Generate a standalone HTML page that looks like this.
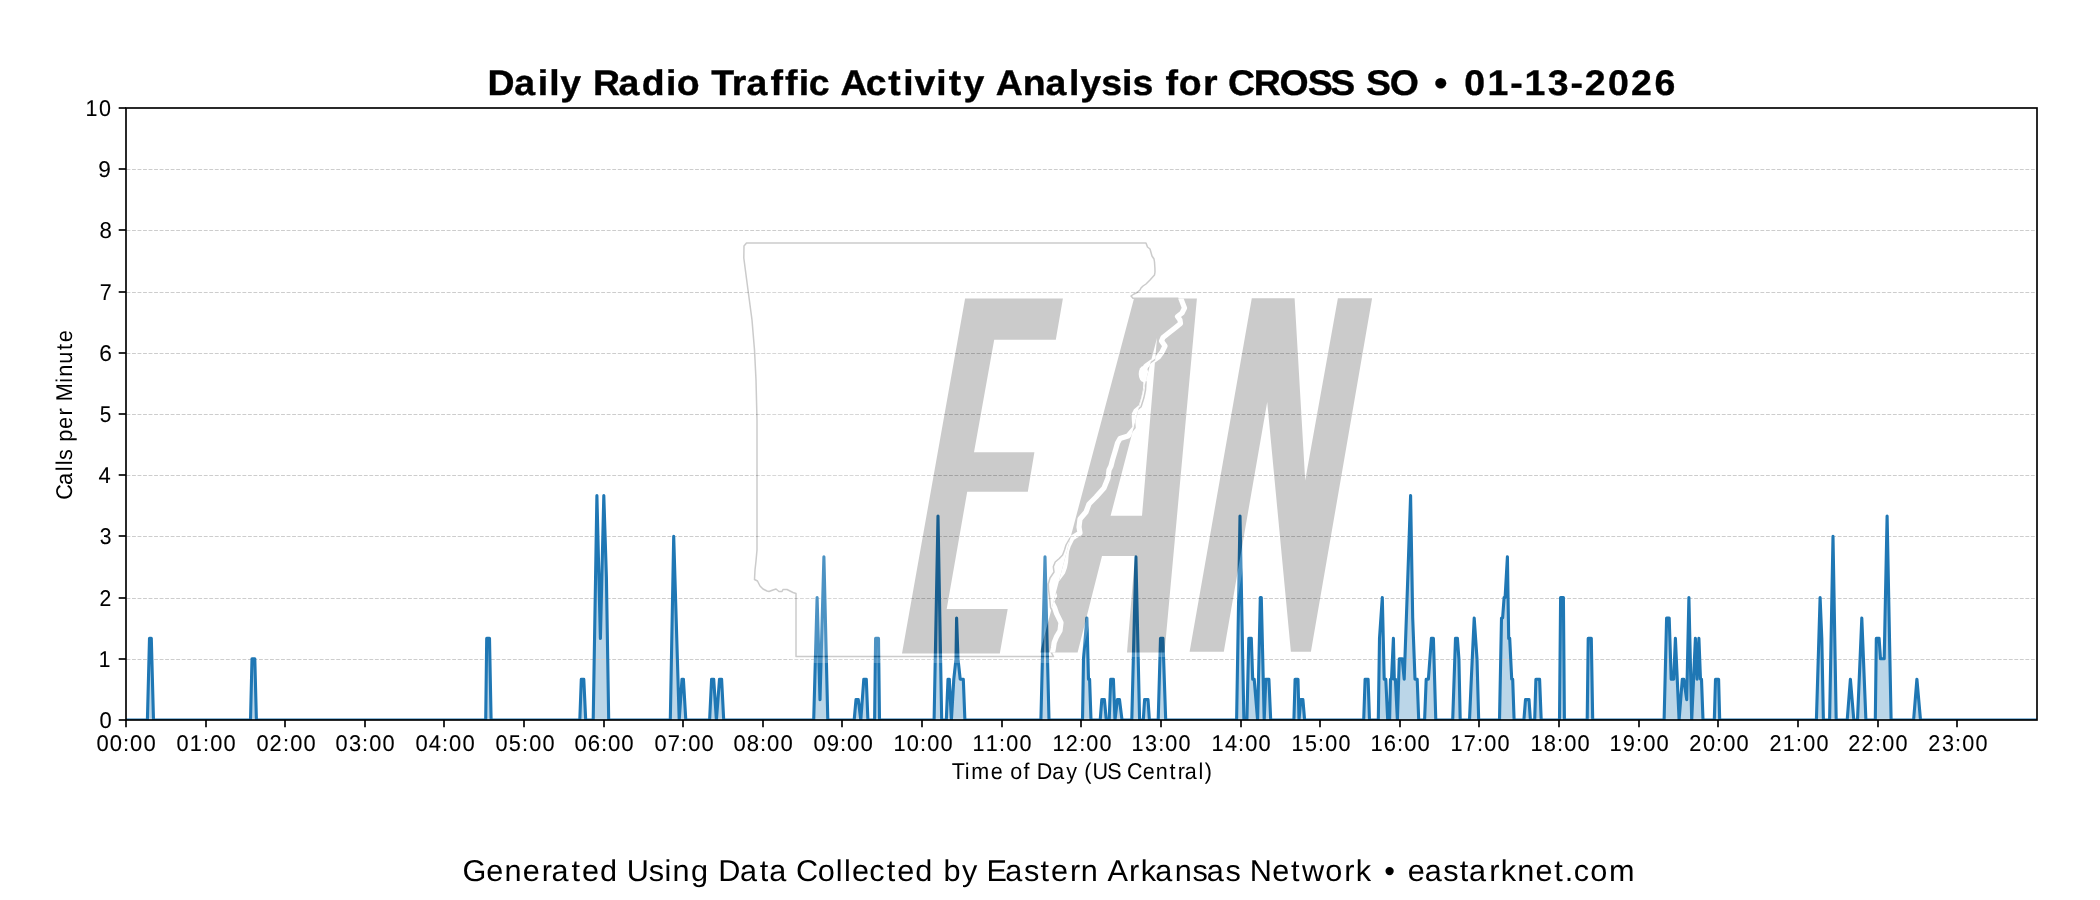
<!DOCTYPE html>
<html><head><meta charset="utf-8"><title>Daily Radio Traffic Activity Analysis</title>
<style>
html,body{margin:0;padding:0;background:#fff;}
svg{display:block;will-change:transform;}
text{font-family:"Liberation Sans",sans-serif;fill:#000;text-rendering:geometricPrecision;}
</style></head><body>
<svg width="2100" height="900" viewBox="0 0 2100 900">
<defs>
<clipPath id="ax"><rect x="126" y="108" width="1911" height="612"/></clipPath>
<clipPath id="lt"><path d="M965.1 298.4 L1062.9 298.4 L1055.8 339.8 L994.2 339.8 L974 452.2 L1034.4 452.2 L1027.8 491.8 L967.2 491.8 L946.7 608.9 L1007.7 608.9 L999.8 653.6 L902 653.6 Z M1134 298.4 L1196.9 298.4 L1164.5 652.4 L1127 652.4 L1135 556 L1102 556 L1077.6 652.4 L1040 652.4 Z M1157 338 L1142 515.8 L1110.6 515.8 Z M1251.8 298.2 L1294.6 298.2 L1305.2 480.6 L1337.9 298.2 L1372.1 298.2 L1310.9 651.8 L1290.9 651.8 L1267.2 401.9 L1223.8 651.8 L1189.6 651.8 Z" clip-rule="evenodd"/></clipPath>
</defs>
<rect x="0" y="0" width="2100" height="900" fill="#fff"/>
<g clip-path="url(#ax)">
<path d="M125.9 720 L147.4 720 L149.5 638.4 L151.3 638.4 L153.5 720 L250.5 720 L252 658.8 L254.8 658.8 L256.4 720 L485.7 720 L486.7 638.4 L489.5 638.4 L491.1 720 L579.8 720 L581.3 679.2 L583.8 679.2 L585.7 720 L593.2 720 L596.9 495.6 L600.4 638.4 L603.8 495.6 L606.4 577.2 L608.7 720 L670.3 720 L673.7 536.4 L679.2 720 L682 679.2 L683.4 679.2 L685.8 720 L709.6 720 L711.6 679.2 L713.7 679.2 L716.4 720 L719.5 679.2 L721.6 679.2 L723.7 720 L813.7 720 L817.1 597.6 L820 699.6 L823.9 556.8 L827.8 720 L854.2 720 L856 699.6 L858.3 699.6 L860.8 720 L863.8 679.2 L866.3 679.2 L867.9 720 L874.6 720 L875.6 638.4 L878.5 638.4 L879.5 720 L934.1 720 L938 516 L941.7 720 L946.3 720 L948 679.2 L949.3 679.2 L951.4 720 L953.8 679.2 L956 658.8 L956.6 618 L958 658.8 L960.2 679.2 L963.3 679.2 L964.9 720 L1040.9 720 L1045 556.8 L1049 720 L1082.5 720 L1083.5 658.8 L1086.9 618 L1088.5 679.2 L1089.6 679.2 L1091 720 L1100.2 720 L1101.8 699.6 L1104.4 699.6 L1106.3 720 L1109.2 720 L1110.7 679.2 L1113.4 679.2 L1115 720 L1117.4 699.6 L1119.5 699.6 L1122 720 L1131.8 720 L1135.9 556.8 L1139.6 720 L1143.3 720 L1144.6 699.6 L1148 699.6 L1149.4 720 L1158.2 720 L1160.5 638.4 L1162.9 638.4 L1165.7 720 L1236.6 720 L1240 516 L1243.9 720 L1246.9 720 L1248.8 638.4 L1251.3 638.4 L1252.7 679.2 L1254.2 679.2 L1257.6 720 L1260.3 597.6 L1261.3 597.6 L1264.2 720 L1265.8 679.2 L1268.9 679.2 L1270.7 720 L1293.9 720 L1295.1 679.2 L1298 679.2 L1299 720 L1300.8 699.6 L1302.9 699.6 L1304.6 720 L1363.7 720 L1365.1 679.2 L1368.1 679.2 L1369.5 720 L1378.3 720 L1379.5 638.4 L1382.3 597.6 L1384.2 679.2 L1385.8 679.2 L1387.7 720 L1389.6 720 L1390.5 679.2 L1391.5 679.2 L1393.4 638.4 L1394.3 679.2 L1395.4 679.2 L1397.4 720 L1399.3 658.8 L1402.2 658.8 L1404.2 679.2 L1407.8 577.2 L1410.6 495.6 L1412.7 618 L1415 679.2 L1417.2 679.2 L1418.7 720 L1424.6 720 L1426.2 679.2 L1428.4 679.2 L1431.4 638.4 L1433.4 638.4 L1435.8 720 L1452.7 720 L1455.5 638.4 L1457.4 638.4 L1458.9 658.8 L1460.2 720 L1469.5 720 L1471.3 679.2 L1474.2 618 L1477 658.8 L1478.7 720 L1499.5 720 L1501.5 618 L1502.6 618 L1504.1 597.6 L1505.1 597.6 L1507.4 556.8 L1508.7 638.4 L1509.7 638.4 L1511.7 679.2 L1512.7 679.2 L1514.1 720 L1523.9 720 L1525.5 699.6 L1529 699.6 L1530.4 720 L1534.7 720 L1535.9 679.2 L1539.6 679.2 L1541.2 720 L1559.5 720 L1560.6 597.6 L1563.4 597.6 L1564.4 720 L1587.2 720 L1588.2 638.4 L1591.3 638.4 L1592.7 720 L1664.1 720 L1666.6 618 L1669.2 618 L1671.2 679.2 L1673.7 679.2 L1675.4 638.4 L1679.1 720 L1682.3 679.2 L1683.8 679.2 L1686.7 699.6 L1688.9 597.6 L1691.7 720 L1695.4 638.4 L1697.1 679.2 L1698.9 638.4 L1700.5 679.2 L1701.5 679.2 L1703 720 L1714.3 720 L1715.5 679.2 L1718.6 679.2 L1719.7 720 L1816.4 720 L1820.1 597.6 L1821.8 638.4 L1823.4 720 L1829.6 720 L1833 536.4 L1836.2 720 L1847.2 720 L1850.4 679.2 L1853.8 720 L1857.5 720 L1861.8 618 L1865.9 720 L1875.3 720 L1876.3 638.4 L1879.1 638.4 L1880.5 658.8 L1884.2 658.8 L1887.1 516 L1891.1 720 L1913.6 720 L1916.9 679.2 L1920.5 720 L2036.78 720 L2036.78 720 L125.9 720 Z" fill="#1f77b4" fill-opacity="0.3" stroke="none"/>
<g stroke="#cdcdcd" stroke-width="1.04" stroke-dasharray="3.85 1.67" stroke-dashoffset="-0.5" fill="none"><line x1="126" y1="659.5" x2="2036" y2="659.5"/><line x1="126" y1="598.5" x2="2036" y2="598.5"/><line x1="126" y1="536.5" x2="2036" y2="536.5"/><line x1="126" y1="475.5" x2="2036" y2="475.5"/><line x1="126" y1="414.5" x2="2036" y2="414.5"/><line x1="126" y1="353.5" x2="2036" y2="353.5"/><line x1="126" y1="292.5" x2="2036" y2="292.5"/><line x1="126" y1="230.5" x2="2036" y2="230.5"/><line x1="126" y1="169.5" x2="2036" y2="169.5"/></g>
<path d="M125.9 720 L147.4 720 L149.5 638.4 L151.3 638.4 L153.5 720 L250.5 720 L252 658.8 L254.8 658.8 L256.4 720 L485.7 720 L486.7 638.4 L489.5 638.4 L491.1 720 L579.8 720 L581.3 679.2 L583.8 679.2 L585.7 720 L593.2 720 L596.9 495.6 L600.4 638.4 L603.8 495.6 L606.4 577.2 L608.7 720 L670.3 720 L673.7 536.4 L679.2 720 L682 679.2 L683.4 679.2 L685.8 720 L709.6 720 L711.6 679.2 L713.7 679.2 L716.4 720 L719.5 679.2 L721.6 679.2 L723.7 720 L813.7 720 L817.1 597.6 L820 699.6 L823.9 556.8 L827.8 720 L854.2 720 L856 699.6 L858.3 699.6 L860.8 720 L863.8 679.2 L866.3 679.2 L867.9 720 L874.6 720 L875.6 638.4 L878.5 638.4 L879.5 720 L934.1 720 L938 516 L941.7 720 L946.3 720 L948 679.2 L949.3 679.2 L951.4 720 L953.8 679.2 L956 658.8 L956.6 618 L958 658.8 L960.2 679.2 L963.3 679.2 L964.9 720 L1040.9 720 L1045 556.8 L1049 720 L1082.5 720 L1083.5 658.8 L1086.9 618 L1088.5 679.2 L1089.6 679.2 L1091 720 L1100.2 720 L1101.8 699.6 L1104.4 699.6 L1106.3 720 L1109.2 720 L1110.7 679.2 L1113.4 679.2 L1115 720 L1117.4 699.6 L1119.5 699.6 L1122 720 L1131.8 720 L1135.9 556.8 L1139.6 720 L1143.3 720 L1144.6 699.6 L1148 699.6 L1149.4 720 L1158.2 720 L1160.5 638.4 L1162.9 638.4 L1165.7 720 L1236.6 720 L1240 516 L1243.9 720 L1246.9 720 L1248.8 638.4 L1251.3 638.4 L1252.7 679.2 L1254.2 679.2 L1257.6 720 L1260.3 597.6 L1261.3 597.6 L1264.2 720 L1265.8 679.2 L1268.9 679.2 L1270.7 720 L1293.9 720 L1295.1 679.2 L1298 679.2 L1299 720 L1300.8 699.6 L1302.9 699.6 L1304.6 720 L1363.7 720 L1365.1 679.2 L1368.1 679.2 L1369.5 720 L1378.3 720 L1379.5 638.4 L1382.3 597.6 L1384.2 679.2 L1385.8 679.2 L1387.7 720 L1389.6 720 L1390.5 679.2 L1391.5 679.2 L1393.4 638.4 L1394.3 679.2 L1395.4 679.2 L1397.4 720 L1399.3 658.8 L1402.2 658.8 L1404.2 679.2 L1407.8 577.2 L1410.6 495.6 L1412.7 618 L1415 679.2 L1417.2 679.2 L1418.7 720 L1424.6 720 L1426.2 679.2 L1428.4 679.2 L1431.4 638.4 L1433.4 638.4 L1435.8 720 L1452.7 720 L1455.5 638.4 L1457.4 638.4 L1458.9 658.8 L1460.2 720 L1469.5 720 L1471.3 679.2 L1474.2 618 L1477 658.8 L1478.7 720 L1499.5 720 L1501.5 618 L1502.6 618 L1504.1 597.6 L1505.1 597.6 L1507.4 556.8 L1508.7 638.4 L1509.7 638.4 L1511.7 679.2 L1512.7 679.2 L1514.1 720 L1523.9 720 L1525.5 699.6 L1529 699.6 L1530.4 720 L1534.7 720 L1535.9 679.2 L1539.6 679.2 L1541.2 720 L1559.5 720 L1560.6 597.6 L1563.4 597.6 L1564.4 720 L1587.2 720 L1588.2 638.4 L1591.3 638.4 L1592.7 720 L1664.1 720 L1666.6 618 L1669.2 618 L1671.2 679.2 L1673.7 679.2 L1675.4 638.4 L1679.1 720 L1682.3 679.2 L1683.8 679.2 L1686.7 699.6 L1688.9 597.6 L1691.7 720 L1695.4 638.4 L1697.1 679.2 L1698.9 638.4 L1700.5 679.2 L1701.5 679.2 L1703 720 L1714.3 720 L1715.5 679.2 L1718.6 679.2 L1719.7 720 L1816.4 720 L1820.1 597.6 L1821.8 638.4 L1823.4 720 L1829.6 720 L1833 536.4 L1836.2 720 L1847.2 720 L1850.4 679.2 L1853.8 720 L1857.5 720 L1861.8 618 L1865.9 720 L1875.3 720 L1876.3 638.4 L1879.1 638.4 L1880.5 658.8 L1884.2 658.8 L1887.1 516 L1891.1 720 L1913.6 720 L1916.9 679.2 L1920.5 720 L2036.78 720" fill="none" stroke="#1f77b4" stroke-width="3.1" stroke-linejoin="round" stroke-linecap="butt"/>
<g opacity="0.2">
<path d="M1146 243 L1147.5 247 L1150 249 L1152 256 L1154 259 L1154.5 262 L1154.9 268 L1155 272 L1154.5 275 L1150 280 L1146 284 L1143 286 L1141 288 L1140 290 L1137 292.5 L1134 294 L1131 296 L1133 298.3 L1178 298.3 L1184.5 308 L1182 313 L1177.5 316.5 L1180 320 L1180.5 323.5 L1175 328 L1168 333.5 L1163 337.5 L1161.5 341 L1165 346 L1162 352 L1158.5 357 L1153 361 L1146 366 L1143 372 L1144 378 L1146 382 L1145.5 390 L1143.9 397.8 L1141.1 406.7 L1136 411 L1134.2 414.4 L1134.4 420 L1135 427.8 L1128 436 L1120 438.5 L1117.5 443 L1115.5 450 L1112.8 458.9 L1111 466 L1109 470 L1108 478 L1104 488 L1096 497 L1089 504 L1086 512 L1080 519 L1078 527 L1077 533 L1070 538 L1066 545 L1064.5 550 L1062.6 555 L1059.3 558.5 L1055.2 562 L1053.3 566.7 L1054 572 L1050 578 L1048.3 584 L1048.6 590 L1049.4 595.8 L1050 601.6 L1050.5 607.4 L1053.5 613.3 L1058.1 622.6 L1057 630.8 L1052.3 636.6 L1051.2 642.4 L1052.3 648.2 L1051.5 652.9 L1053.5 656.5 L1053.5 656.5 L796 656.5 L796 593.5 L793 592.5 L790 591 L787 589.5 L783 589.5 L782 591.5 L779 591.5 L776 589 L773 590 L769 591.5 L767 591 L763 589 L760 586 L758.5 583 L757.5 581 L754.5 579.5 L755 570 L756 561 L757 550 L757 420 L756 380 L754.5 350 L752 320 L748 290 L743.8 258 L744 246 L746.5 243 Z" fill="#fff" stroke="#fff" stroke-width="13" stroke-linejoin="round"/>
<path d="M965.1 298.4 L1062.9 298.4 L1055.8 339.8 L994.2 339.8 L974 452.2 L1034.4 452.2 L1027.8 491.8 L967.2 491.8 L946.7 608.9 L1007.7 608.9 L999.8 653.6 L902 653.6 Z M1134 298.4 L1196.9 298.4 L1164.5 652.4 L1127 652.4 L1135 556 L1102 556 L1077.6 652.4 L1040 652.4 Z M1157 338 L1142 515.8 L1110.6 515.8 Z M1251.8 298.2 L1294.6 298.2 L1305.2 480.6 L1337.9 298.2 L1372.1 298.2 L1310.9 651.8 L1290.9 651.8 L1267.2 401.9 L1223.8 651.8 L1189.6 651.8 Z" fill="#fff" fill-rule="evenodd" stroke="#fff" stroke-width="9" stroke-linejoin="round"/>
<path d="M1146 243 L1147.5 247 L1150 249 L1152 256 L1154 259 L1154.5 262 L1154.9 268 L1155 272 L1154.5 275 L1150 280 L1146 284 L1143 286 L1141 288 L1140 290 L1137 292.5 L1134 294 L1131 296 L1133 298.3 L1178 298.3 L1184.5 308 L1182 313 L1177.5 316.5 L1180 320 L1180.5 323.5 L1175 328 L1168 333.5 L1163 337.5 L1161.5 341 L1165 346 L1162 352 L1158.5 357 L1153 361 L1146 366 L1143 372 L1144 378 L1146 382 L1145.5 390 L1143.9 397.8 L1141.1 406.7 L1136 411 L1134.2 414.4 L1134.4 420 L1135 427.8 L1128 436 L1120 438.5 L1117.5 443 L1115.5 450 L1112.8 458.9 L1111 466 L1109 470 L1108 478 L1104 488 L1096 497 L1089 504 L1086 512 L1080 519 L1078 527 L1077 533 L1070 538 L1066 545 L1064.5 550 L1062.6 555 L1059.3 558.5 L1055.2 562 L1053.3 566.7 L1054 572 L1050 578 L1048.3 584 L1048.6 590 L1049.4 595.8 L1050 601.6 L1050.5 607.4 L1053.5 613.3 L1058.1 622.6 L1057 630.8 L1052.3 636.6 L1051.2 642.4 L1052.3 648.2 L1051.5 652.9 L1053.5 656.5 L1053.5 656.5 L796 656.5 L796 593.5 L793 592.5 L790 591 L787 589.5 L783 589.5 L782 591.5 L779 591.5 L776 589 L773 590 L769 591.5 L767 591 L763 589 L760 586 L758.5 583 L757.5 581 L754.5 579.5 L755 570 L756 561 L757 550 L757 420 L756 380 L754.5 350 L752 320 L748 290 L743.8 258 L744 246 L746.5 243 Z" fill="none" stroke="#000" stroke-width="1.5" stroke-linejoin="round"/>
<path d="M965.1 298.4 L1062.9 298.4 L1055.8 339.8 L994.2 339.8 L974 452.2 L1034.4 452.2 L1027.8 491.8 L967.2 491.8 L946.7 608.9 L1007.7 608.9 L999.8 653.6 L902 653.6 Z M1134 298.4 L1196.9 298.4 L1164.5 652.4 L1127 652.4 L1135 556 L1102 556 L1077.6 652.4 L1040 652.4 Z M1157 338 L1142 515.8 L1110.6 515.8 Z M1251.8 298.2 L1294.6 298.2 L1305.2 480.6 L1337.9 298.2 L1372.1 298.2 L1310.9 651.8 L1290.9 651.8 L1267.2 401.9 L1223.8 651.8 L1189.6 651.8 Z" fill="#000" fill-rule="evenodd"/>
<path d="M1180.8 296 L1180.8 298.4 L1184.5 308 L1182 313 L1177.5 316.5 L1180 320 L1180.5 323.5 L1175 328 L1168 333.5 L1163 337.5 L1161.5 341 L1165 346 L1162 352 L1158.5 357 L1153 361 L1146 366 L1143 372 L1144 378 L1146 382 L1145.5 390 L1143.9 397.8 L1141.1 406.7 L1136 411 L1134.2 414.4 L1134.4 420 L1135 427.8 L1128 436 L1120 438.5 L1117.5 443 L1115.5 450 L1112.8 458.9 L1111 466 L1109 470 L1108 478 L1104 488 L1096 497 L1089 504 L1086 512 L1080 519 L1079 527 L1080 533 L1072 538 L1068.5 545 L1066.5 551 L1066 556 L1065.5 562 L1064.5 567 L1062.5 572.5 L1058 578.3 L1053.5 584 L1052.2 590 L1054.5 595.8 L1051.5 601.6 L1054.5 607.4 L1056.5 613.3 L1061 622.6 L1060 630.8 L1056.6 636.6 L1054.2 642.4 L1053.4 648.2 L1052.4 652.9 L1053.5 656.5" fill="none" stroke="#fff" stroke-width="5.2" stroke-linejoin="round" stroke-linecap="round" clip-path="url(#lt)"/>
<ellipse cx="1143.5" cy="374" rx="4.8" ry="8" fill="#fff" clip-path="url(#lt)"/>
</g>
</g>
<g stroke="#000" stroke-width="1.67" fill="none" stroke-linecap="butt">
<rect x="126" y="108" width="1911" height="612"/>
<line x1="118.7" y1="720" x2="126" y2="720"/><line x1="118.7" y1="659" x2="126" y2="659"/><line x1="118.7" y1="598" x2="126" y2="598"/><line x1="118.7" y1="536" x2="126" y2="536"/><line x1="118.7" y1="475" x2="126" y2="475"/><line x1="118.7" y1="414" x2="126" y2="414"/><line x1="118.7" y1="353" x2="126" y2="353"/><line x1="118.7" y1="292" x2="126" y2="292"/><line x1="118.7" y1="230" x2="126" y2="230"/><line x1="118.7" y1="169" x2="126" y2="169"/><line x1="118.7" y1="108" x2="126" y2="108"/><line x1="126" y1="720" x2="126" y2="727.3"/><line x1="206" y1="720" x2="206" y2="727.3"/><line x1="285" y1="720" x2="285" y2="727.3"/><line x1="365" y1="720" x2="365" y2="727.3"/><line x1="444" y1="720" x2="444" y2="727.3"/><line x1="524" y1="720" x2="524" y2="727.3"/><line x1="604" y1="720" x2="604" y2="727.3"/><line x1="683" y1="720" x2="683" y2="727.3"/><line x1="763" y1="720" x2="763" y2="727.3"/><line x1="842" y1="720" x2="842" y2="727.3"/><line x1="922" y1="720" x2="922" y2="727.3"/><line x1="1002" y1="720" x2="1002" y2="727.3"/><line x1="1081" y1="720" x2="1081" y2="727.3"/><line x1="1161" y1="720" x2="1161" y2="727.3"/><line x1="1241" y1="720" x2="1241" y2="727.3"/><line x1="1320" y1="720" x2="1320" y2="727.3"/><line x1="1400" y1="720" x2="1400" y2="727.3"/><line x1="1479" y1="720" x2="1479" y2="727.3"/><line x1="1559" y1="720" x2="1559" y2="727.3"/><line x1="1639" y1="720" x2="1639" y2="727.3"/><line x1="1718" y1="720" x2="1718" y2="727.3"/><line x1="1798" y1="720" x2="1798" y2="727.3"/><line x1="1878" y1="720" x2="1878" y2="727.3"/><line x1="1957" y1="720" x2="1957" y2="727.3"/>
</g>
<g fill="#000">
<text transform="scale(1.0488,1)" x="464.87 490.36 512.72 523.61 534.29 554.14 565.42 589.83 611.97 634.94 645.33 667.14 678.13 697.71 711.7 734.62 748.44 761.71 771.02 790.88 801.41 825.51 846.91 861.11 871.94 892.72 904.6 918.58 938.44 949.49 975.08 996.87 1019.23 1029.9 1050.03 1069.75 1079.83 1099.69 1111.18 1123.94 1147.03 1160.92 1170.79 1195.46 1219.91 1246.99 1268.44 1292.26 1302.39 1325.21 1352.98 1367.57 1380.07 1396.18 1418.33 1439.92 1453.63 1475.71 1497.33 1510.94 1533.1 1555.16 1577.42" y="95" font-size="35.7px" font-weight="bold" stroke="#000" stroke-width="0.36">Daily Radio Traffic Activity Analysis for CROSS SO • 01-13-2026</text>
<text transform="scale(1.0214,1)" x="452.92 476.15 493.99 511.81 530.3 539.95 559.46 569.8 587.42 604.1 613.69 635.1 650.48 658.54 676.42 693.1 703.28 724.38 743.9 753.07 769.75 779.29 800.64 818.34 826.27 834.08 851.15 868.19 878.53 896.15 912.83 923.7 941.86 956.86 965.81 984.26 1002.56 1018.65 1028.99 1047.48 1058.08 1074.76 1084.23 1105.43 1116.74 1131.12 1150.05 1167.52 1181.58 1199.89 1214.89 1223.54 1245.56 1263.97 1274.65 1297.57 1316.06 1327.36 1342.36 1355.15 1365.65 1378.39 1394.79 1413.09 1429.18 1438.35 1457.94 1469.25 1485.56 1503.39 1521.8 1532 1540.73 1556.82 1575.38" y="881" font-size="30.0px">Generated Using Data Collected by Eastern Arkansas Network • eastarknet.com</text>
<text transform="scale(0.9444,1)" x="1007.89 1021.5 1028.4 1049.12 1061.8 1069.67 1083.78 1090.11 1097.88 1114.2 1128.97 1140.37 1148.19 1156.72 1172.57 1187.78 1193.46 1210.04 1223.85 1238.26 1247 1254.51 1268.99 1275.68" y="779" font-size="22.8px">Time of Day (US Central)</text>
<text transform="translate(71.6,497.84) rotate(-90) scale(0.9530,1)" x="-1.95 13.6 27.99 34.08 39.81 51.21 58.77 72.37 86.54 94.13 101.32 120.8 127 140.79 155.19 163.15" y="0" font-size="22.8px">Calls per Minute</text>
<text transform="scale(0.9632,1)" x="103.34" y="728" font-size="22.8px" stroke="#000" stroke-width="0.08">0</text>
<text transform="scale(0.9200,1)" x="107.3" y="667" font-size="22.8px" stroke="#000" stroke-width="0.08">1</text>
<text transform="scale(0.9284,1)" x="107.1" y="606" font-size="22.8px" stroke="#000" stroke-width="0.08">2</text>
<text transform="scale(0.9250,1)" x="107.91" y="544" font-size="22.8px" stroke="#000" stroke-width="0.08">3</text>
<text transform="scale(0.9633,1)" x="102.25" y="483" font-size="22.8px" stroke="#000" stroke-width="0.08">4</text>
<text transform="scale(0.9090,1)" x="109.78" y="422" font-size="22.8px" stroke="#000" stroke-width="0.08">5</text>
<text transform="scale(0.9969,1)" x="99.68" y="361" font-size="22.8px" stroke="#000" stroke-width="0.08">6</text>
<text transform="scale(0.9422,1)" x="105.76" y="300" font-size="22.8px" stroke="#000" stroke-width="0.08">7</text>
<text transform="scale(0.9736,1)" x="102.13" y="238" font-size="22.8px" stroke="#000" stroke-width="0.08">8</text>
<text transform="scale(0.9949,1)" x="98.84" y="177" font-size="22.8px" stroke="#000" stroke-width="0.08">9</text>
<text transform="scale(0.9427,1)" x="90.76 104.96" y="116" font-size="22.8px" stroke="#000" stroke-width="0.08">10</text>
<text transform="scale(0.9644,1)" x="100.09 113.86 127.58 134.93 148.7" y="751" font-size="22.8px" stroke="#000" stroke-width="0.08">00:00</text>
<text transform="scale(0.9549,1)" x="184.92 198.72 212.66 220.11 234.01" y="751" font-size="22.8px" stroke="#000" stroke-width="0.08">01:00</text>
<text transform="scale(0.9565,1)" x="268.26 281.86 295.96 303.39 317.27" y="751" font-size="22.8px" stroke="#000" stroke-width="0.08">02:00</text>
<text transform="scale(0.9554,1)" x="351.26 365.19 378.98 386.42 400.32" y="751" font-size="22.8px" stroke="#000" stroke-width="0.08">03:00</text>
<text transform="scale(0.9644,1)" x="430.85 444.62 458.35 465.69 479.46" y="751" font-size="22.8px" stroke="#000" stroke-width="0.08">04:00</text>
<text transform="scale(0.9516,1)" x="520.82 534.69 548.64 556.12 570.08" y="751" font-size="22.8px" stroke="#000" stroke-width="0.08">05:00</text>
<text transform="scale(0.9722,1)" x="590.88 604.55 618.18 625.44 639.1" y="751" font-size="22.8px" stroke="#000" stroke-width="0.08">06:00</text>
<text transform="scale(0.9596,1)" x="682.1 695.9 709.72 717.11 730.95" y="751" font-size="22.8px" stroke="#000" stroke-width="0.08">07:00</text>
<text transform="scale(0.9669,1)" x="758.65 772.38 786.08 793.39 807.13" y="751" font-size="22.8px" stroke="#000" stroke-width="0.08">08:00</text>
<text transform="scale(0.9718,1)" x="837.11 850.71 864.42 871.68 885.35" y="751" font-size="22.8px" stroke="#000" stroke-width="0.08">09:00</text>
<text transform="scale(0.9549,1)" x="935.64 949.67 963.49 970.94 984.85" y="751" font-size="22.8px" stroke="#000" stroke-width="0.08">10:00</text>
<text transform="scale(0.9450,1)" x="1029.16 1043.22 1057.27 1064.83 1078.88" y="751" font-size="22.8px" stroke="#000" stroke-width="0.08">11:00</text>
<text transform="scale(0.9467,1)" x="1111.84 1125.69 1139.9 1147.44 1161.47" y="751" font-size="22.8px" stroke="#000" stroke-width="0.08">12:00</text>
<text transform="scale(0.9457,1)" x="1196.55 1210.74 1224.64 1232.19 1246.24" y="751" font-size="22.8px" stroke="#000" stroke-width="0.08">13:00</text>
<text transform="scale(0.9551,1)" x="1268.47 1282.49 1296.31 1303.76 1317.66" y="751" font-size="22.8px" stroke="#000" stroke-width="0.08">14:00</text>
<text transform="scale(0.9418,1)" x="1371.39 1385.52 1399.58 1407.18 1421.28" y="751" font-size="22.8px" stroke="#000" stroke-width="0.08">15:00</text>
<text transform="scale(0.9629,1)" x="1423.29 1437.2 1450.93 1458.29 1472.09" y="751" font-size="22.8px" stroke="#000" stroke-width="0.08">16:00</text>
<text transform="scale(0.9499,1)" x="1527.01 1541.06 1554.99 1562.49 1576.47" y="751" font-size="22.8px" stroke="#000" stroke-width="0.08">17:00</text>
<text transform="scale(0.9574,1)" x="1598.55 1612.54 1626.34 1633.76 1647.63" y="751" font-size="22.8px" stroke="#000" stroke-width="0.08">18:00</text>
<text transform="scale(0.9624,1)" x="1672.33 1686.17 1699.99 1707.35 1721.15" y="751" font-size="22.8px" stroke="#000" stroke-width="0.08">19:00</text>
<text transform="scale(0.9565,1)" x="1766.17 1780.34 1794.15 1801.58 1815.47" y="751" font-size="22.8px" stroke="#000" stroke-width="0.08">20:00</text>
<text transform="scale(0.9467,1)" x="1869 1883.21 1897.24 1904.78 1918.81" y="751" font-size="22.8px" stroke="#000" stroke-width="0.08">21:00</text>
<text transform="scale(0.9483,1)" x="1949.07 1963.08 1977.27 1984.79 1998.8" y="751" font-size="22.8px" stroke="#000" stroke-width="0.08">22:00</text>
<text transform="scale(0.9473,1)" x="2035.59 2049.93 2063.81 2071.34 2085.36" y="751" font-size="22.8px" stroke="#000" stroke-width="0.08">23:00</text>
</g>
</svg>
</body></html>
